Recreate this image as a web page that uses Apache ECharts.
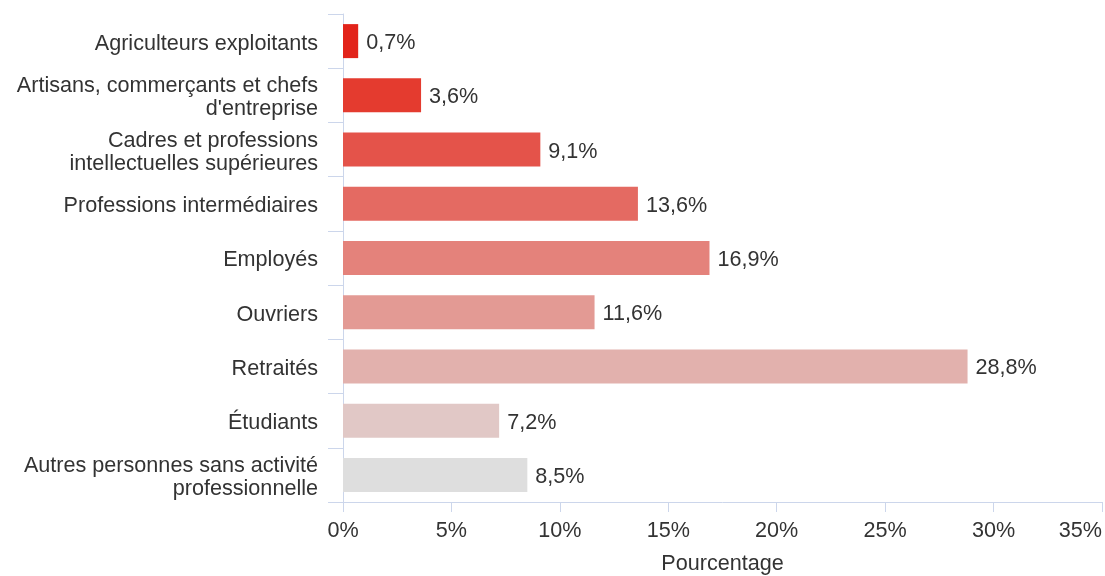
<!DOCTYPE html>
<html>
<head>
<meta charset="utf-8">
<script src="https://cdn.jsdelivr.net/npm/echarts@6/dist/echarts.min.js"></script>
<style>
  html, body { margin: 0; padding: 0; background: #fff; }
  #chart { width: 1105px; height: 576px; }
</style>
</head>
<body>
<div id="chart"></div>
<script>
// Socio-professional categories, top to bottom
const categories = [
  'Agriculteurs exploitants',
  'Artisans, commerçants et chefs\nd\'entreprise',
  'Cadres et professions\nintellectuelles supérieures',
  'Professions intermédiaires',
  'Employés',
  'Ouvriers',
  'Retraités',
  'Étudiants',
  'Autres personnes sans activité\nprofessionnelle'
];
const values = [0.7, 3.6, 9.1, 13.6, 16.9, 11.6, 28.8, 7.2, 8.5];
const barColors = [
  '#e2231a', '#e43b2f', '#e4534a', '#e46a62', '#e4827b',
  '#e39a94', '#e2b1ad', '#e1c8c6', '#dedede'
];
const xTicks = [0, 5, 10, 15, 20, 25, 30, 35];

const axisColor = '#ccd6eb';
const font = 'Liberation Sans, Arial, sans-serif';
const fontSize = 21.6;

const chart = echarts.init(document.getElementById('chart'));
chart.setOption({
  animation: false,
  grid: {
    left: 343, right: 3, top: 14, bottom: 74,
    containLabel: false, outerBoundsMode: 'none'
  },
  xAxis: {
    type: 'value',
    min: xTicks[0],
    max: xTicks[xTicks.length - 1],
    interval: 5,
    name: 'Pourcentage',
    nameLocation: 'middle',
    nameGap: 51,
    nameTextStyle: { color: '#333', fontSize: fontSize, fontFamily: font },
    axisLine: { show: true, lineStyle: { color: axisColor } },
    axisTick: { show: true, length: 10, lineStyle: { color: axisColor } },
    splitLine: { show: false },
    axisLabel: {
      color: '#333', fontSize: fontSize, fontFamily: font, margin: 18,
      alignMaxLabel: 'right',
      formatter: v => v + '%'
    }
  },
  yAxis: {
    type: 'category',
    data: categories,
    inverse: true,
    axisLine: { show: true, lineStyle: { color: axisColor } },
    axisTick: { show: true, length: 15, lineStyle: { color: axisColor } },
    axisLabel: {
      color: '#333', fontSize: fontSize, fontFamily: font, margin: 25,
      align: 'right',
      // each line drawn as a token sitting slightly below the tick centre
      formatter: v => v.split('\n').map(l => '{t|' + l + '}').join('\n'),
      rich: {
        t: {
          color: '#333', fontSize: fontSize, fontFamily: font,
          lineHeight: 23, padding: [5, 0, 0, 0]
        }
      }
    }
  },
  series: [{
    type: 'bar',
    barWidth: 34,
    data: values.map((v, i) => ({ value: v, itemStyle: { color: barColors[i] } })),
    label: {
      show: true,
      position: 'right',
      distance: 8,
      offset: [0, 2],
      color: '#333',
      fontSize: fontSize,
      fontFamily: font,
      formatter: p => String(p.value).replace('.', ',') + '%'
    }
  }]
});
</script>
</body>
</html>
